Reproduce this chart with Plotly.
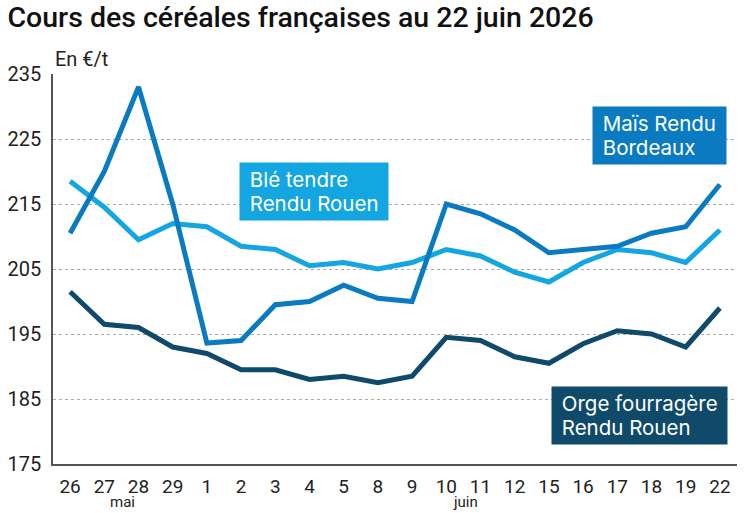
import plotly.graph_objects as go

days = ["26", "27", "28", "29", "1", "2", "3", "4", "5", "8", "9", "10", "11", "12", "15", "16", "17", "18", "19", "22"]
months = ["mai", "juin"]

mais = [210.5, 220, 233, 215, 193.6, 194, 199.5, 200, 202.5, 200.5, 200, 215, 213.5, 211, 207.5, 208, 208.5, 210.5, 211.5, 218]
ble = [218.5, 214.5, 209.5, 212, 211.5, 208.5, 208, 205.5, 206, 205, 206, 208, 207, 204.5, 203, 206, 208, 207.5, 206, 211]
orge = [201.5, 196.5, 196, 193, 192, 189.5, 189.5, 188, 188.5, 187.5, 188.5, 194.5, 194, 191.5, 190.5, 193.5, 195.5, 195, 193, 199]

y_ticks = [175, 185, 195, 205, 215, 225, 235]

c_mais = "#0a7bc1"
c_ble = "#13a6e0"
c_orge = "#0f4a6b"

fig = go.Figure()
for vals, col in [(orge, c_orge), (ble, c_ble), (mais, c_mais)]:
    fig.add_trace(go.Scatter(x=days, y=vals, mode="lines",
                             line=dict(color=col, width=5), hoverinfo="skip"))

font = "Roboto, sans-serif"
lab_font = "Inter, Roboto, sans-serif"


def box_text(lines):
    return "<br>".join(
        "<span style='font-size:20.5px'>&nbsp;" + ln + "&nbsp;</span>" for ln in lines)


labels = [
    (["Blé tendre", "Rendu Rouen"], 7.12, 217.0, c_ble),
    (["Maïs Rendu", "Bordeaux"], 17.22, 225.6, c_mais),
    (["Orge fourragère", "Rendu Rouen"], 16.66, 182.4, c_orge),
]
for lines, xi, yv, col in labels:
    fig.add_annotation(x=xi, y=yv, xref="x", yref="y", text=box_text(lines), showarrow=False,
                       align="left", bgcolor=col, borderpad=4,
                       font=dict(family=lab_font, size=18.5, color="white"))

fig.add_annotation(x=0, y=1, xref="paper", yref="paper", xanchor="left", yanchor="bottom",
                   text="En €/t", showarrow=False, yshift=1, xshift=0,
                   font=dict(family=font, size=20, color="#222"))

for m, xi in zip(months, [1.52, 11.55]):
    fig.add_annotation(x=xi, y=-49 / 390, xref="x", yref="paper", xanchor="center",
                       yanchor="bottom", text=m, showarrow=False,
                       font=dict(family=font, size=15, color="#222"))

fig.update_layout(
    width=747, height=513,
    margin=dict(l=53, r=10, t=74, b=49),
    paper_bgcolor="white", plot_bgcolor="white",
    showlegend=False,
    title=dict(text="Cours des céréales françaises au 22 juin 2026", x=0.01, xanchor="left",
               y=0.967, yanchor="middle",
               font=dict(family=font, size=28.5, color="#111", weight=500)),
    xaxis=dict(type="category", categoryorder="array", categoryarray=days,
               range=[-0.5, 19.5], tickmode="array", tickvals=days, ticktext=days,
               showgrid=False, showline=True, linecolor="#555", linewidth=1.5,
               ticks="", ticklabelstandoff=4, automargin=False,
               tickfont=dict(family=font, size=19, color="#222")),
    yaxis=dict(range=[175, 235], tickvals=y_ticks, showgrid=True, gridcolor="#aaaaaa",
               griddash="dot", gridwidth=1, zeroline=False, automargin=False,
               showline=True, linecolor="#555", linewidth=1.5, ticks="",
               ticklabelstandoff=6,
               tickfont=dict(family=font, size=20, color="#222")),
)

fig.write_html("out.html")
